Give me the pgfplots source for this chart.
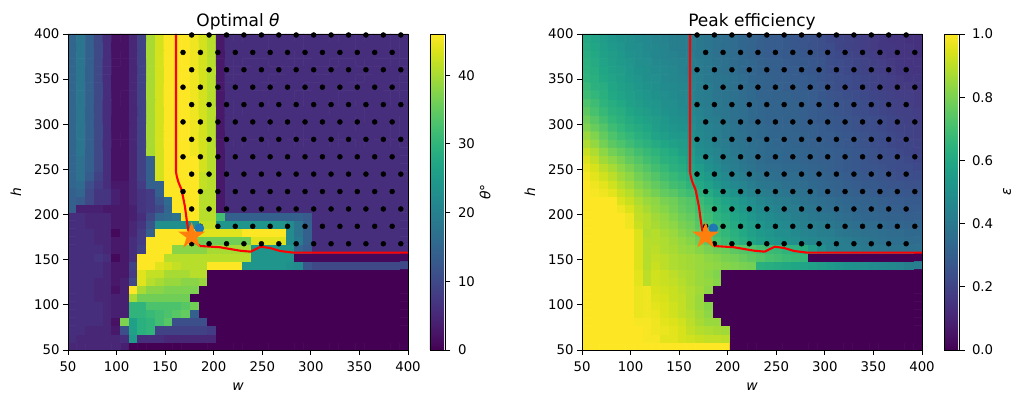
\documentclass[border=0pt]{standalone}
\usepackage{pgfplots}
\pgfplotsset{compat=1.18}
\usepackage{fontspec}
\setmainfont{DejaVu Sans}
\pgfdeclareplotmark{fstar}{%
  \pgfpathmoveto{\pgfpointpolar{90}{\pgfplotmarksize}}%
  \pgfpathlineto{\pgfpointpolar{126}{.382\pgfplotmarksize}}%
  \pgfpathlineto{\pgfpointpolar{162}{\pgfplotmarksize}}%
  \pgfpathlineto{\pgfpointpolar{198}{.382\pgfplotmarksize}}%
  \pgfpathlineto{\pgfpointpolar{234}{\pgfplotmarksize}}%
  \pgfpathlineto{\pgfpointpolar{270}{.382\pgfplotmarksize}}%
  \pgfpathlineto{\pgfpointpolar{306}{\pgfplotmarksize}}%
  \pgfpathlineto{\pgfpointpolar{342}{.382\pgfplotmarksize}}%
  \pgfpathlineto{\pgfpointpolar{18}{\pgfplotmarksize}}%
  \pgfpathlineto{\pgfpointpolar{54}{.382\pgfplotmarksize}}%
  \pgfpathclose\pgfusepathqfill}
\definecolor{mplblue}{HTML}{1F77B4}
\definecolor{mplorange}{HTML}{FF7F0E}
\pgfplotsset{
  panel/.style={
    scale only axis, width=340pt, height=316pt,
    xmin=50, xmax=400, ymin=50, ymax=400, y dir=normal,
    xtick={50,100,...,400}, ytick={50,100,...,400},
    tick align=outside, tickpos=left, major tick length=5pt,
    tick style={black, line width=0.9pt},
    axis line style={line width=0.9pt},
    axis on top, colormap/viridis,
    /pgf/number format/assume math mode=true,
    ticklabel style={font=\fontsize{13.3}{16}\selectfont},
    xticklabel style={yshift=-3pt},
    label style={font=\fontsize{13.9}{16}\selectfont},
    title style={font=\fontsize{17}{20}\selectfont, yshift=-6pt},
    xlabel={\textit{w}}, ylabel={\textit{h}},
    xlabel style={yshift=-4pt}, ylabel style={yshift=6pt},
    enlargelimits=false,
  },
  heat/.style={matrix plot*, mesh/cols=39, point meta=explicit, shader=faceted, faceted color=mapped color, line width=0.5pt},
  cb/.style={
    colorbar style={
      at={(1.0647,1)}, anchor=north west,
      scale only axis, width=15.5pt, height=316pt,
      tick align=outside, major tick length=5pt, ytick pos=right, yticklabel pos=right,
      tick style={black, line width=0.9pt},
      axis line style={line width=0.9pt},
      yticklabel style={font=\fontsize{13.3}{16}\selectfont, xshift=4pt},
      /pgf/number format/assume math mode=true,
      ylabel style={font=\fontsize{13.9}{16}\selectfont, yshift=-3pt},
    }
  },
}
\begin{document}
\begin{tikzpicture}[x=1pt,y=1pt]
\path[use as bounding box] (0,0) rectangle (1023,404);
\begin{axis}[panel, at={(68pt,54pt)}, anchor=south west, title={Optimal \textit{θ}},
  point meta min=0, point meta max=46, colorbar, cb,
  colorbar style={ytick={0,10,20,30,40}, ylabel={\textit{θ}°}, ylabel style={yshift=5pt}}]
\addplot[heat] table[row sep=\\, header=false, meta index=0, x expr={50+(350/39)*(mod(\coordindex,39)+0.5)}, y expr={50+(350/39)*(floor((\coordindex+0.5)/39)+0.5)}]{
5\\5\\5\\5\\5\\5\\4\\0\\0\\0\\0\\0\\0\\0\\0\\0\\0\\0\\0\\0\\0\\0\\0\\0\\0\\0\\0\\0\\0\\0\\0\\0\\0\\0\\0\\0\\0\\0\\0\\
6\\5\\5\\5\\5\\5\\6\\25\\6\\6\\6\\5\\5\\5\\5\\5\\5\\0\\0\\0\\0\\0\\0\\0\\0\\0\\0\\0\\0\\0\\0\\0\\0\\0\\0\\0\\0\\0\\0\\
6\\6\\5\\5\\5\\3\\11\\26\\29\\30\\9\\9\\9\\9\\9\\9\\8\\0\\0\\0\\0\\0\\0\\0\\0\\0\\0\\0\\0\\0\\0\\0\\0\\0\\0\\0\\0\\0\\0\\
6\\6\\6\\6\\5\\2\\37\\26\\29\\30\\32\\34\\11\\11\\11\\11\\0\\0\\0\\0\\0\\0\\0\\0\\0\\0\\0\\0\\0\\0\\0\\0\\0\\0\\0\\0\\0\\0\\0\\
6\\6\\6\\6\\5\\4\\4\\30\\30\\31\\32\\33\\34\\35\\14\\0\\0\\0\\0\\0\\0\\0\\0\\0\\0\\0\\0\\0\\0\\0\\0\\0\\0\\0\\0\\0\\0\\0\\0\\
6\\6\\6\\6\\5\\4\\4\\30\\30\\33\\33\\33\\33\\34\\36\\0\\0\\0\\0\\0\\0\\0\\0\\0\\0\\0\\0\\0\\0\\0\\0\\0\\0\\0\\0\\0\\0\\0\\0\\
6\\6\\6\\5\\5\\4\\4\\40\\36\\36\\36\\36\\36\\36\\0\\0\\0\\0\\0\\0\\0\\0\\0\\0\\0\\0\\0\\0\\0\\0\\0\\0\\0\\0\\0\\0\\0\\0\\0\\
6\\6\\6\\5\\5\\2\\4\\46\\40\\38\\38\\37\\37\\37\\37\\0\\0\\0\\0\\0\\0\\0\\0\\0\\0\\0\\0\\0\\0\\0\\0\\0\\0\\0\\0\\0\\0\\0\\0\\
6\\6\\6\\5\\5\\3\\4\\10\\44\\41\\40\\39\\39\\38\\38\\39\\0\\0\\0\\0\\0\\0\\0\\0\\0\\0\\0\\0\\0\\0\\0\\0\\0\\0\\0\\0\\0\\0\\0\\
6\\6\\6\\6\\5\\3\\3\\8\\44\\42\\42\\40\\40\\40\\41\\41\\0\\0\\0\\0\\0\\0\\0\\0\\0\\0\\0\\0\\0\\0\\0\\0\\0\\0\\0\\0\\0\\0\\0\\
6\\6\\6\\6\\5\\3\\3\\9\\46\\46\\44\\43\\42\\41\\41\\41\\46\\46\\46\\46\\24\\24\\24\\24\\24\\23\\22\\12\\10\\10\\10\\10\\10\\10\\10\\10\\10\\10\\10\\
6\\6\\6\\7\\6\\1\\3\\6\\46\\46\\46\\41\\41\\41\\41\\41\\41\\41\\41\\41\\41\\24\\24\\24\\24\\24\\1\\1\\1\\1\\1\\1\\1\\1\\1\\1\\1\\1\\1\\
6\\6\\6\\6\\5\\3\\3\\6\\9\\46\\46\\46\\38\\38\\38\\38\\40\\40\\40\\40\\40\\24\\24\\24\\24\\24\\15\\13\\6\\6\\6\\6\\6\\6\\6\\6\\6\\6\\6\\
6\\6\\6\\5\\5\\3\\3\\6\\8\\46\\46\\46\\46\\46\\36\\36\\36\\36\\36\\36\\36\\44\\44\\44\\44\\22\\19\\14\\6\\6\\6\\6\\6\\6\\6\\6\\6\\6\\6\\
6\\6\\6\\5\\5\\1\\3\\5\\8\\14\\46\\46\\46\\46\\44\\44\\44\\44\\44\\44\\46\\46\\46\\46\\46\\22\\18\\14\\6\\6\\6\\6\\6\\6\\6\\6\\6\\6\\6\\
6\\6\\5\\5\\5\\3\\3\\5\\7\\12\\23\\23\\23\\23\\24\\42\\42\\24\\24\\24\\24\\24\\24\\24\\24\\22\\18\\14\\6\\6\\6\\6\\6\\6\\6\\6\\6\\6\\6\\
6\\6\\5\\5\\5\\3\\3\\4\\6\\10\\15\\16\\17\\46\\46\\41\\41\\32\\14\\14\\14\\14\\14\\14\\14\\14\\14\\13\\6\\6\\6\\6\\6\\6\\6\\6\\6\\6\\6\\
14\\4\\4\\4\\3\\3\\3\\4\\7\\8\\10\\15\\46\\46\\46\\41\\41\\3\\6\\6\\6\\6\\6\\6\\6\\6\\6\\6\\6\\6\\6\\6\\6\\6\\6\\6\\6\\6\\6\\
14\\13\\10\\7\\7\\4\\3\\5\\7\\8\\12\\16\\46\\46\\46\\41\\41\\3\\6\\6\\6\\6\\6\\6\\6\\6\\6\\6\\6\\6\\6\\6\\6\\6\\6\\6\\6\\6\\6\\
14\\15\\10\\7\\7\\4\\3\\5\\7\\8\\14\\46\\46\\46\\46\\41\\41\\3\\6\\6\\6\\6\\6\\6\\6\\6\\6\\6\\6\\6\\6\\6\\6\\6\\6\\6\\6\\6\\6\\
15\\16\\11\\8\\6\\3\\3\\5\\8\\14\\14\\46\\46\\46\\46\\42\\41\\3\\6\\6\\6\\6\\6\\6\\6\\6\\6\\6\\6\\6\\6\\6\\6\\6\\6\\6\\6\\6\\6\\
15\\17\\13\\9\\6\\2\\2\\5\\9\\14\\43\\46\\46\\46\\46\\42\\41\\3\\6\\6\\6\\6\\6\\6\\6\\6\\6\\6\\6\\6\\6\\6\\6\\6\\6\\6\\6\\6\\6\\
15\\17\\14\\10\\6\\2\\2\\5\\9\\14\\43\\46\\46\\46\\46\\43\\41\\3\\6\\6\\6\\6\\6\\6\\6\\6\\6\\6\\6\\6\\6\\6\\6\\6\\6\\6\\6\\6\\6\\
15\\17\\14\\10\\6\\2\\2\\5\\9\\14\\43\\46\\46\\46\\46\\43\\41\\3\\6\\6\\6\\6\\6\\6\\6\\6\\6\\6\\6\\6\\6\\6\\6\\6\\6\\6\\6\\6\\6\\
15\\18\\14\\10\\6\\2\\2\\5\\9\\40\\43\\46\\46\\46\\45\\43\\41\\3\\6\\6\\6\\6\\6\\6\\6\\6\\6\\6\\6\\6\\6\\6\\6\\6\\6\\6\\6\\6\\6\\
15\\18\\14\\10\\6\\2\\2\\5\\9\\40\\43\\46\\46\\46\\45\\43\\41\\3\\6\\6\\6\\6\\6\\6\\6\\6\\6\\6\\6\\6\\6\\6\\6\\6\\6\\6\\6\\6\\6\\
15\\18\\14\\10\\6\\2\\2\\5\\9\\40\\43\\46\\46\\46\\45\\43\\41\\3\\6\\6\\6\\6\\6\\6\\6\\6\\6\\6\\6\\6\\6\\6\\6\\6\\6\\6\\6\\6\\6\\
15\\18\\14\\10\\6\\2\\2\\5\\9\\40\\43\\46\\46\\46\\45\\43\\41\\3\\6\\6\\6\\6\\6\\6\\6\\6\\6\\6\\6\\6\\6\\6\\6\\6\\6\\6\\6\\6\\6\\
15\\18\\14\\10\\6\\2\\2\\5\\9\\40\\43\\46\\46\\46\\45\\43\\41\\3\\6\\6\\6\\6\\6\\6\\6\\6\\6\\6\\6\\6\\6\\6\\6\\6\\6\\6\\6\\6\\6\\
15\\18\\14\\10\\6\\2\\2\\5\\9\\40\\43\\46\\46\\46\\45\\43\\41\\3\\6\\6\\6\\6\\6\\6\\6\\6\\6\\6\\6\\6\\6\\6\\6\\6\\6\\6\\6\\6\\6\\
15\\18\\14\\10\\6\\2\\2\\5\\9\\40\\43\\46\\46\\46\\45\\43\\41\\3\\6\\6\\6\\6\\6\\6\\6\\6\\6\\6\\6\\6\\6\\6\\6\\6\\6\\6\\6\\6\\6\\
15\\18\\14\\10\\6\\2\\2\\5\\9\\40\\43\\46\\46\\46\\45\\43\\41\\3\\6\\6\\6\\6\\6\\6\\6\\6\\6\\6\\6\\6\\6\\6\\6\\6\\6\\6\\6\\6\\6\\
15\\18\\14\\10\\6\\2\\2\\5\\9\\40\\43\\46\\46\\46\\45\\43\\41\\3\\6\\6\\6\\6\\6\\6\\6\\6\\6\\6\\6\\6\\6\\6\\6\\6\\6\\6\\6\\6\\6\\
15\\18\\14\\10\\6\\2\\2\\5\\9\\40\\43\\46\\46\\46\\45\\43\\41\\3\\6\\6\\6\\6\\6\\6\\6\\6\\6\\6\\6\\6\\6\\6\\6\\6\\6\\6\\6\\6\\6\\
15\\18\\14\\10\\6\\2\\2\\5\\9\\40\\43\\46\\46\\46\\45\\43\\41\\3\\6\\6\\6\\6\\6\\6\\6\\6\\6\\6\\6\\6\\6\\6\\6\\6\\6\\6\\6\\6\\6\\
15\\18\\14\\10\\6\\2\\2\\5\\9\\40\\43\\46\\46\\46\\45\\43\\41\\3\\6\\6\\6\\6\\6\\6\\6\\6\\6\\6\\6\\6\\6\\6\\6\\6\\6\\6\\6\\6\\6\\
15\\18\\14\\10\\6\\2\\2\\5\\9\\40\\43\\46\\46\\46\\45\\43\\41\\3\\6\\6\\6\\6\\6\\6\\6\\6\\6\\6\\6\\6\\6\\6\\6\\6\\6\\6\\6\\6\\6\\
15\\18\\14\\10\\6\\2\\2\\5\\9\\40\\43\\46\\46\\46\\45\\43\\41\\3\\6\\6\\6\\6\\6\\6\\6\\6\\6\\6\\6\\6\\6\\6\\6\\6\\6\\6\\6\\6\\6\\
15\\18\\14\\10\\6\\2\\2\\5\\9\\40\\43\\46\\46\\46\\45\\43\\41\\3\\6\\6\\6\\6\\6\\6\\6\\6\\6\\6\\6\\6\\6\\6\\6\\6\\6\\6\\6\\6\\6\\
};
% hatch dots
\addplot[only marks, mark=*, mark size=2.5pt, black] coordinates {
(177.3,398.9)(195.2,398.9)(213.2,398.9)(231.1,398.9)(249.1,398.9)(267,398.9)(284.9,398.9)(302.9,398.9)(320.8,398.9)(338.8,398.9)(356.7,398.9)(374.6,398.9)(392.6,398.9)
(168.4,379.6)(186.3,379.6)(204.3,379.6)(222.2,379.6)(240.2,379.6)(258.1,379.6)(276,379.6)(294,379.6)(311.9,379.6)(329.9,379.6)(347.8,379.6)(365.7,379.6)(383.7,379.6)
(177.3,360.4)(195.2,360.4)(213.2,360.4)(231.1,360.4)(249.1,360.4)(267,360.4)(284.9,360.4)(302.9,360.4)(320.8,360.4)(338.8,360.4)(356.7,360.4)(374.6,360.4)(392.6,360.4)
(168.4,341.1)(186.3,341.1)(204.3,341.1)(222.2,341.1)(240.2,341.1)(258.1,341.1)(276,341.1)(294,341.1)(311.9,341.1)(329.9,341.1)(347.8,341.1)(365.7,341.1)(383.7,341.1)
(177.3,321.8)(195.2,321.8)(213.2,321.8)(231.1,321.8)(249.1,321.8)(267,321.8)(284.9,321.8)(302.9,321.8)(320.8,321.8)(338.8,321.8)(356.7,321.8)(374.6,321.8)(392.6,321.8)
(168.4,302.6)(186.3,302.6)(204.3,302.6)(222.2,302.6)(240.2,302.6)(258.1,302.6)(276,302.6)(294,302.6)(311.9,302.6)(329.9,302.6)(347.8,302.6)(365.7,302.6)(383.7,302.6)
(177.3,283.3)(195.2,283.3)(213.2,283.3)(231.1,283.3)(249.1,283.3)(267,283.3)(284.9,283.3)(302.9,283.3)(320.8,283.3)(338.8,283.3)(356.7,283.3)(374.6,283.3)(392.6,283.3)
(168.4,264)(186.3,264)(204.3,264)(222.2,264)(240.2,264)(258.1,264)(276,264)(294,264)(311.9,264)(329.9,264)(347.8,264)(365.7,264)(383.7,264)
(177.3,244.8)(195.2,244.8)(213.2,244.8)(231.1,244.8)(249.1,244.8)(267,244.8)(284.9,244.8)(302.9,244.8)(320.8,244.8)(338.8,244.8)(356.7,244.8)(374.6,244.8)(392.6,244.8)
(168.4,225.5)(186.3,225.5)(204.3,225.5)(222.2,225.5)(240.2,225.5)(258.1,225.5)(276,225.5)(294,225.5)(311.9,225.5)(329.9,225.5)(347.8,225.5)(365.7,225.5)(383.7,225.5)
(177.3,206.2)(195.2,206.2)(213.2,206.2)(231.1,206.2)(249.1,206.2)(267,206.2)(284.9,206.2)(302.9,206.2)(320.8,206.2)(338.8,206.2)(356.7,206.2)(374.6,206.2)(392.6,206.2)
(186.3,187)(204.3,187)(222.2,187)(240.2,187)(258.1,187)(276,187)(294,187)(311.9,187)(329.9,187)(347.8,187)(365.7,187)(383.7,187)
(177.3,167.7)(195.2,167.7)(213.2,167.7)(231.1,167.7)(249.1,167.7)(267,167.7)(284.9,167.7)(302.9,167.7)(320.8,167.7)(338.8,167.7)(356.7,167.7)(374.6,167.7)(392.6,167.7)
};
\addplot[red, line width=2.1pt] coordinates {(161.2,400)(161.2,247.2)(161.9,242.8)(163.5,236.4)(167,227.2)(170.4,208.7)(172.2,194)(173.8,182.9)(177.6,171.8)(185.9,165.2)(206.5,163.8)(227,160)(238,158.9)(248.4,164.4)(258,163)(268.2,159.7)(282,157.8)(400,157.8)};
\addplot[only marks, mark=*, mark size=4.6pt, mplblue, mark options={draw=none}] coordinates {(185.2,184.8)};
\addplot[only marks, mark=fstar, mark size=14.2pt, mplorange] coordinates {(177.3,176.3)};
\end{axis}
\begin{axis}[panel, at={(582pt,54pt)}, anchor=south west, title={Peak efficiency},
  point meta min=0, point meta max=1, colorbar, cb,
  colorbar style={ytick={0,0.2,0.4,0.6,0.8,1}, yticklabel style={/pgf/number format/fixed, /pgf/number format/fixed zerofill, /pgf/number format/precision=1}, ylabel={\textit{ε}}}]
\addplot[heat] table[row sep=\\, header=false, meta index=0, x expr={50+(350/39)*(mod(\coordindex,39)+0.5)}, y expr={50+(350/39)*(floor((\coordindex+0.5)/39)+0.5)}]{
1\\1\\1\\1\\1\\1\\1\\1\\1\\1\\1\\1\\1\\1\\1\\1\\1\\0\\0\\0\\0\\0\\0\\0\\0\\0\\0\\0\\0\\0\\0\\0\\0\\0\\0\\0\\0\\0\\0\\
1\\1\\1\\1\\1\\1\\1\\.99\\.99\\.96\\.96\\.94\\.93\\.92\\.91\\.91\\.90\\0\\0\\0\\0\\0\\0\\0\\0\\0\\0\\0\\0\\0\\0\\0\\0\\0\\0\\0\\0\\0\\0\\
1\\1\\1\\1\\1\\1\\1\\.99\\.98\\.97\\.96\\.94\\.91\\.89\\.88\\.87\\.86\\0\\0\\0\\0\\0\\0\\0\\0\\0\\0\\0\\0\\0\\0\\0\\0\\0\\0\\0\\0\\0\\0\\
1\\1\\1\\1\\1\\1\\.99\\.99\\.98\\.96\\.95\\.93\\.90\\.87\\.85\\.85\\0\\0\\0\\0\\0\\0\\0\\0\\0\\0\\0\\0\\0\\0\\0\\0\\0\\0\\0\\0\\0\\0\\0\\
1\\1\\1\\1\\1\\1\\.97\\.98\\.97\\.95\\.93\\.91\\.89\\.86\\.83\\0\\0\\0\\0\\0\\0\\0\\0\\0\\0\\0\\0\\0\\0\\0\\0\\0\\0\\0\\0\\0\\0\\0\\0\\
1\\1\\1\\1\\1\\1\\.97\\.98\\.96\\.95\\.93\\.91\\.88\\.85\\.82\\0\\0\\0\\0\\0\\0\\0\\0\\0\\0\\0\\0\\0\\0\\0\\0\\0\\0\\0\\0\\0\\0\\0\\0\\
1\\1\\1\\1\\1\\1\\.97\\.98\\.95\\.94\\.92\\.91\\.88\\.85\\0\\0\\0\\0\\0\\0\\0\\0\\0\\0\\0\\0\\0\\0\\0\\0\\0\\0\\0\\0\\0\\0\\0\\0\\0\\
1\\1\\1\\1\\1\\1\\.97\\.98\\.94\\.93\\.92\\.90\\.88\\.86\\.83\\0\\0\\0\\0\\0\\0\\0\\0\\0\\0\\0\\0\\0\\0\\0\\0\\0\\0\\0\\0\\0\\0\\0\\0\\
1\\1\\1\\1\\1\\1\\.96\\.90\\.93\\.92\\.91\\.89\\.87\\.85\\.84\\.82\\0\\0\\0\\0\\0\\0\\0\\0\\0\\0\\0\\0\\0\\0\\0\\0\\0\\0\\0\\0\\0\\0\\0\\
1\\1\\1\\1\\1\\1\\.96\\.90\\.93\\.92\\.90\\.88\\.87\\.85\\.83\\.81\\0\\0\\0\\0\\0\\0\\0\\0\\0\\0\\0\\0\\0\\0\\0\\0\\0\\0\\0\\0\\0\\0\\0\\
1\\1\\1\\1\\1\\1\\.95\\.89\\.92\\.90\\.88\\.87\\.86\\.85\\.84\\.83\\.82\\.81\\.80\\.79\\.63\\.62\\.61\\.60\\.59\\.58\\.57\\.55\\.54\\.52\\.51\\.50\\.49\\.48\\.47\\.46\\.45\\.43\\.42\\
1\\1\\1\\1\\1\\1\\.95\\.89\\.91\\.90\\.88\\.87\\.86\\.85\\.83\\.82\\.80\\.79\\.77\\.75\\.73\\.71\\.70\\.68\\.67\\.66\\0\\0\\0\\0\\0\\0\\0\\0\\0\\0\\0\\0\\0\\
1\\1\\1\\1\\1\\1\\.95\\.89\\.90\\.88\\.87\\.85\\.84\\.82\\.80\\.78\\.77\\.75\\.73\\.72\\.70\\.68\\.67\\.65\\.64\\.62\\.56\\.50\\.45\\.43\\.42\\.41\\.40\\.40\\.39\\.38\\.38\\.37\\.37\\
1\\1\\1\\1\\1\\1\\.95\\.89\\.89\\.88\\.86\\.84\\.82\\.78\\.75\\.71\\.68\\.65\\.62\\.59\\.56\\.54\\.52\\.51\\.49\\.47\\.46\\.45\\.44\\.42\\.41\\.40\\.39\\.38\\.37\\.36\\.36\\.35\\.35\\
1\\1\\1\\1\\1\\1\\.95\\.88\\.89\\.87\\.85\\.82\\.80\\.76\\.73\\.69\\.66\\.63\\.60\\.57\\.54\\.52\\.50\\.49\\.47\\.45\\.44\\.43\\.42\\.40\\.39\\.38\\.37\\.37\\.36\\.35\\.35\\.34\\.34\\
1\\1\\1\\1\\1\\.98\\.92\\.89\\.87\\.85\\.83\\.80\\.78\\.74\\.71\\.67\\.64\\.61\\.58\\.55\\.52\\.50\\.48\\.47\\.45\\.43\\.42\\.41\\.40\\.38\\.37\\.36\\.35\\.35\\.34\\.33\\.33\\.32\\.32\\
1\\1\\1\\1\\1\\.98\\.91\\.89\\.86\\.84\\.81\\.78\\.76\\.72\\.69\\.65\\.62\\.59\\.56\\.53\\.50\\.48\\.46\\.45\\.43\\.41\\.40\\.39\\.38\\.36\\.35\\.34\\.33\\.33\\.32\\.31\\.31\\.30\\.30\\
1\\1\\1\\1\\.98\\.95\\.90\\.87\\.84\\.82\\.79\\.76\\.74\\.70\\.67\\.63\\.60\\.57\\.54\\.51\\.48\\.46\\.44\\.43\\.42\\.40\\.39\\.37\\.36\\.35\\.34\\.33\\.32\\.32\\.31\\.30\\.30\\.29\\.29\\
1\\1\\1\\1\\.95\\.92\\.88\\.85\\.83\\.80\\.78\\.75\\.73\\.68\\.65\\.61\\.58\\.55\\.52\\.49\\.46\\.44\\.43\\.41\\.40\\.38\\.37\\.36\\.35\\.34\\.33\\.32\\.31\\.31\\.30\\.29\\.29\\.28\\.28\\
1\\.99\\.98\\.96\\.92\\.89\\.85\\.82\\.79\\.76\\.74\\.71\\.69\\.64\\.61\\.57\\.54\\.51\\.48\\.45\\.43\\.41\\.40\\.39\\.38\\.37\\.36\\.34\\.33\\.32\\.31\\.30\\.30\\.29\\.28\\.28\\.27\\.27\\.26\\
1\\.98\\.96\\.93\\.89\\.86\\.82\\.79\\.76\\.73\\.70\\.68\\.65\\.60\\.57\\.53\\.50\\.47\\.45\\.42\\.40\\.39\\.38\\.37\\.36\\.35\\.34\\.33\\.32\\.31\\.30\\.29\\.28\\.28\\.27\\.26\\.26\\.25\\.25\\
.99\\.96\\.93\\.90\\.86\\.83\\.79\\.76\\.73\\.70\\.67\\.65\\.62\\.57\\.54\\.50\\.47\\.44\\.42\\.40\\.38\\.37\\.36\\.35\\.35\\.34\\.33\\.32\\.31\\.30\\.29\\.28\\.27\\.27\\.26\\.25\\.24\\.24\\.23\\
.97\\.94\\.90\\.87\\.83\\.80\\.76\\.73\\.70\\.67\\.64\\.62\\.59\\.55\\.51\\.48\\.44\\.42\\.40\\.38\\.36\\.35\\.35\\.34\\.34\\.33\\.32\\.31\\.30\\.29\\.28\\.27\\.26\\.26\\.25\\.24\\.23\\.23\\.22\\
.95\\.91\\.86\\.83\\.80\\.76\\.73\\.70\\.67\\.64\\.62\\.60\\.57\\.52\\.49\\.46\\.43\\.41\\.39\\.37\\.35\\.34\\.34\\.33\\.33\\.32\\.31\\.30\\.30\\.29\\.28\\.27\\.26\\.25\\.24\\.24\\.23\\.22\\.21\\
.92\\.88\\.83\\.79\\.76\\.73\\.70\\.67\\.65\\.62\\.60\\.57\\.55\\.50\\.47\\.45\\.42\\.40\\.38\\.37\\.35\\.34\\.34\\.33\\.33\\.32\\.31\\.30\\.30\\.29\\.28\\.27\\.26\\.25\\.24\\.23\\.22\\.21\\.20\\
.88\\.84\\.79\\.75\\.72\\.69\\.66\\.64\\.61\\.59\\.57\\.55\\.53\\.48\\.46\\.43\\.41\\.39\\.38\\.36\\.35\\.34\\.33\\.33\\.32\\.31\\.30\\.30\\.29\\.28\\.27\\.26\\.25\\.24\\.23\\.22\\.21\\.21\\.20\\
.85\\.81\\.76\\.72\\.69\\.66\\.63\\.61\\.58\\.56\\.54\\.53\\.51\\.47\\.45\\.42\\.40\\.38\\.37\\.35\\.34\\.33\\.33\\.32\\.32\\.31\\.30\\.29\\.29\\.28\\.27\\.26\\.25\\.24\\.23\\.22\\.21\\.20\\.19\\
.81\\.77\\.73\\.69\\.66\\.63\\.61\\.59\\.56\\.54\\.52\\.51\\.49\\.46\\.44\\.42\\.40\\.38\\.36\\.35\\.34\\.33\\.32\\.32\\.31\\.30\\.30\\.29\\.28\\.27\\.26\\.25\\.24\\.23\\.22\\.21\\.20\\.20\\.19\\
.78\\.74\\.70\\.66\\.64\\.61\\.59\\.57\\.55\\.53\\.51\\.50\\.48\\.45\\.43\\.41\\.39\\.37\\.36\\.34\\.33\\.32\\.32\\.31\\.31\\.30\\.29\\.28\\.28\\.27\\.26\\.25\\.24\\.23\\.22\\.21\\.20\\.19\\.18\\
.75\\.71\\.67\\.64\\.62\\.59\\.57\\.55\\.53\\.51\\.50\\.48\\.47\\.44\\.42\\.40\\.39\\.37\\.36\\.34\\.33\\.32\\.32\\.31\\.31\\.30\\.29\\.28\\.27\\.26\\.25\\.24\\.23\\.22\\.21\\.20\\.19\\.19\\.18\\
.72\\.69\\.65\\.62\\.60\\.57\\.55\\.53\\.52\\.50\\.49\\.47\\.46\\.43\\.41\\.40\\.38\\.37\\.36\\.34\\.33\\.32\\.32\\.31\\.31\\.30\\.29\\.28\\.27\\.26\\.25\\.24\\.23\\.22\\.21\\.20\\.19\\.18\\.17\\
.69\\.66\\.63\\.60\\.58\\.56\\.54\\.52\\.51\\.49\\.48\\.46\\.45\\.42\\.41\\.39\\.38\\.37\\.35\\.34\\.32\\.32\\.31\\.31\\.30\\.30\\.29\\.27\\.26\\.25\\.24\\.23\\.22\\.21\\.20\\.19\\.18\\.18\\.17\\
.67\\.64\\.62\\.59\\.57\\.55\\.53\\.51\\.50\\.48\\.47\\.46\\.45\\.42\\.41\\.39\\.38\\.37\\.35\\.34\\.32\\.31\\.31\\.30\\.30\\.29\\.28\\.27\\.25\\.24\\.23\\.22\\.21\\.20\\.19\\.18\\.17\\.17\\.16\\
.65\\.63\\.60\\.58\\.56\\.54\\.52\\.50\\.49\\.47\\.46\\.45\\.44\\.42\\.40\\.39\\.38\\.37\\.35\\.33\\.32\\.31\\.30\\.30\\.29\\.29\\.28\\.26\\.25\\.24\\.23\\.22\\.21\\.20\\.19\\.18\\.17\\.16\\.16\\
.64\\.62\\.59\\.57\\.55\\.53\\.51\\.50\\.48\\.47\\.46\\.44\\.43\\.41\\.40\\.38\\.37\\.36\\.34\\.33\\.31\\.30\\.30\\.29\\.29\\.28\\.27\\.26\\.24\\.23\\.22\\.21\\.20\\.19\\.18\\.17\\.16\\.16\\.15\\
.63\\.61\\.58\\.56\\.54\\.52\\.50\\.49\\.47\\.46\\.45\\.44\\.43\\.41\\.40\\.38\\.37\\.35\\.34\\.33\\.31\\.30\\.30\\.29\\.28\\.28\\.27\\.26\\.24\\.23\\.22\\.21\\.20\\.19\\.18\\.17\\.16\\.15\\.15\\
.62\\.60\\.57\\.55\\.53\\.51\\.49\\.48\\.46\\.45\\.44\\.43\\.42\\.40\\.39\\.37\\.36\\.35\\.33\\.32\\.30\\.29\\.29\\.28\\.28\\.27\\.26\\.25\\.23\\.22\\.21\\.20\\.19\\.18\\.17\\.16\\.15\\.15\\.14\\
.61\\.59\\.56\\.54\\.52\\.50\\.49\\.47\\.46\\.45\\.43\\.42\\.41\\.40\\.39\\.37\\.36\\.35\\.33\\.32\\.30\\.29\\.29\\.28\\.27\\.26\\.25\\.24\\.23\\.21\\.20\\.19\\.18\\.17\\.16\\.16\\.15\\.15\\.14\\
.60\\.58\\.55\\.53\\.51\\.50\\.48\\.47\\.45\\.44\\.43\\.42\\.41\\.40\\.39\\.37\\.36\\.35\\.33\\.32\\.30\\.29\\.29\\.28\\.27\\.26\\.25\\.24\\.22\\.21\\.20\\.19\\.18\\.17\\.16\\.15\\.15\\.14\\.14\\
};
\addplot[only marks, mark=*, mark size=2.5pt, black] coordinates {
(168.4,398.9)(186.3,398.9)(204.3,398.9)(222.2,398.9)(240.2,398.9)(258.1,398.9)(276,398.9)(294,398.9)(311.9,398.9)(329.9,398.9)(347.8,398.9)(365.7,398.9)(383.7,398.9)
(177.3,379.6)(195.2,379.6)(213.2,379.6)(231.1,379.6)(249.1,379.6)(267,379.6)(284.9,379.6)(302.9,379.6)(320.8,379.6)(338.8,379.6)(356.7,379.6)(374.6,379.6)(392.6,379.6)
(168.4,360.4)(186.3,360.4)(204.3,360.4)(222.2,360.4)(240.2,360.4)(258.1,360.4)(276,360.4)(294,360.4)(311.9,360.4)(329.9,360.4)(347.8,360.4)(365.7,360.4)(383.7,360.4)
(177.3,341.1)(195.2,341.1)(213.2,341.1)(231.1,341.1)(249.1,341.1)(267,341.1)(284.9,341.1)(302.9,341.1)(320.8,341.1)(338.8,341.1)(356.7,341.1)(374.6,341.1)(392.6,341.1)
(168.4,321.8)(186.3,321.8)(204.3,321.8)(222.2,321.8)(240.2,321.8)(258.1,321.8)(276,321.8)(294,321.8)(311.9,321.8)(329.9,321.8)(347.8,321.8)(365.7,321.8)(383.7,321.8)
(177.3,302.6)(195.2,302.6)(213.2,302.6)(231.1,302.6)(249.1,302.6)(267,302.6)(284.9,302.6)(302.9,302.6)(320.8,302.6)(338.8,302.6)(356.7,302.6)(374.6,302.6)(392.6,302.6)
(168.4,283.3)(186.3,283.3)(204.3,283.3)(222.2,283.3)(240.2,283.3)(258.1,283.3)(276,283.3)(294,283.3)(311.9,283.3)(329.9,283.3)(347.8,283.3)(365.7,283.3)(383.7,283.3)
(177.3,264)(195.2,264)(213.2,264)(231.1,264)(249.1,264)(267,264)(284.9,264)(302.9,264)(320.8,264)(338.8,264)(356.7,264)(374.6,264)(392.6,264)
(168.4,244.8)(186.3,244.8)(204.3,244.8)(222.2,244.8)(240.2,244.8)(258.1,244.8)(276,244.8)(294,244.8)(311.9,244.8)(329.9,244.8)(347.8,244.8)(365.7,244.8)(383.7,244.8)
(177.3,225.5)(195.2,225.5)(213.2,225.5)(231.1,225.5)(249.1,225.5)(267,225.5)(284.9,225.5)(302.9,225.5)(320.8,225.5)(338.8,225.5)(356.7,225.5)(374.6,225.5)(392.6,225.5)
(186.3,206.2)(204.3,206.2)(222.2,206.2)(240.2,206.2)(258.1,206.2)(276,206.2)(294,206.2)(311.9,206.2)(329.9,206.2)(347.8,206.2)(365.7,206.2)(383.7,206.2)
(177.3,187)(195.2,187)(213.2,187)(231.1,187)(249.1,187)(267,187)(284.9,187)(302.9,187)(320.8,187)(338.8,187)(356.7,187)(374.6,187)(392.6,187)
(186.3,167.7)(204.3,167.7)(222.2,167.7)(240.2,167.7)(258.1,167.7)(276,167.7)(294,167.7)(311.9,167.7)(329.9,167.7)(347.8,167.7)(365.7,167.7)(383.7,167.7)
};
\addplot[red, line width=2.1pt] coordinates {(161.2,400)(161.2,247.2)(161.9,242.8)(163.5,236.4)(167,227.2)(170.4,208.7)(172.2,194)(173.8,182.9)(177.6,171.8)(185.9,165.2)(206.5,163.8)(227,160)(238,158.9)(248.4,164.4)(258,163)(268.2,159.7)(282,157.8)(400,157.8)};
\addplot[only marks, mark=*, mark size=4.6pt, mplblue, mark options={draw=none}] coordinates {(185.2,184.8)};
\addplot[only marks, mark=fstar, mark size=14.2pt, mplorange] coordinates {(177.3,176.3)};
\end{axis}
\end{tikzpicture}
\end{document}
